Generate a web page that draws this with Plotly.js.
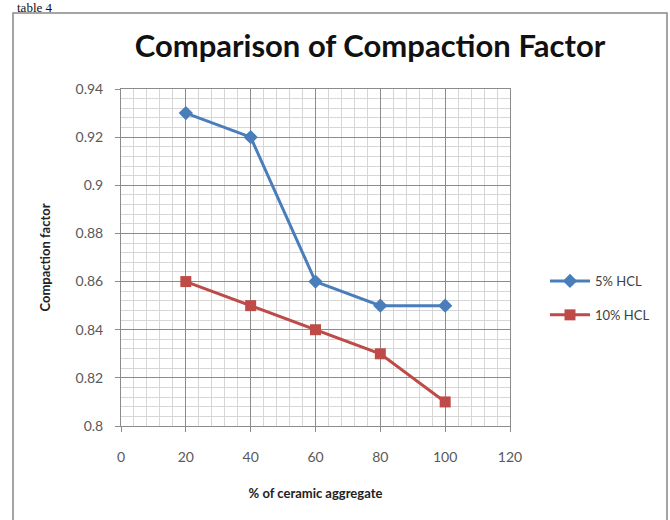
<!DOCTYPE html>
<html><head><meta charset="utf-8">
<script src="https://cdn.plot.ly/plotly-3.0.1.min.js"></script>
<style>html,body{margin:0;padding:0;background:#fff;}#chart{width:670px;height:520px;}</style>
</head><body><div id="chart"></div>
<script>
const xValues = [20, 40, 60, 80, 100];
const hcl5 = [0.93, 0.92, 0.86, 0.85, 0.85];
const hcl10 = [0.86, 0.85, 0.84, 0.83, 0.81];
const seriesNames = ["5% HCL", "10% HCL"];
const chartTitle = "Comparison of Compaction Factor";
const xTitle = "% of ceramic aggregate";
const yTitle = "Compaction factor";

const L = 121, R = 510, T = 89, B = 426;
const px = x => (x - L) / (R - L);
const py = y => (B - y) / (B - T);

const font = "Lato, 'Open Sans', 'Liberation Sans', sans-serif";

const traces = [
  {x: xValues, y: hcl5, name: seriesNames[0], legendgroup: "a", type: "scatter", mode: "lines+markers",
   line: {color: "#4a7ebb", width: 3}, marker: {symbol: "diamond", size: 11, color: "#4a7ebb"}},
  {x: xValues, y: hcl10, name: seriesNames[1], legendgroup: "b", type: "scatter", mode: "lines+markers",
   line: {color: "#be4b48", width: 3}, marker: {symbol: "square", size: 11, color: "#be4b48"}}
];

const layout = {
  width: 670, height: 520,
  margin: {l: L, r: 670 - R, t: T, b: 520 - B},
  paper_bgcolor: "#fff", plot_bgcolor: "#fff",
  showlegend: true,
  legend: {x: px(545), y: py(266), xanchor: "left", yanchor: "top", traceorder: "grouped",
           font: {family: font, size: 13, color: "#404040"}, tracegroupgap: 14, itemwidth: 40},
  title: {text: "<b>" + chartTitle + "</b>", font: {family: font, size: 31, color: "#111"},
          x: px(370), xref: "paper", xanchor: "center", y: 1 - 46/520, yanchor: "middle"},
  xaxis: {range: [0, 120], dtick: 20, tick0: 0, showgrid: true, gridcolor: "#8c8c8c", gridwidth: 1,
          minor: {dtick: 4, showgrid: true, gridcolor: "#d6d6d6", gridwidth: 1},
          showline: true, linecolor: "#8c8c8c", mirror: true, zeroline: false,
          ticks: "outside", ticklen: 5, tickcolor: "#8c8c8c", ticklabelstandoff: 13,
          tickfont: {family: font, size: 14, color: "#595959"},
          title: {text: "<b>" + xTitle + "</b>", font: {family: font, size: 13, color: "#222"}, standoff: 25}},
  yaxis: {range: [0.8, 0.94], dtick: 0.02, tick0: 0.8, showgrid: true, gridcolor: "#8c8c8c", gridwidth: 1,
          minor: {dtick: 0.004, showgrid: true, gridcolor: "#d6d6d6", gridwidth: 1},
          showline: true, linecolor: "#8c8c8c", mirror: true, zeroline: false,
          ticks: "outside", ticklen: 5, tickcolor: "#8c8c8c", ticklabelstandoff: 9,
          tickfont: {family: font, size: 14, color: "#595959"},
          title: {text: "<b>" + yTitle + "</b>", font: {family: font, size: 13, color: "#222"}, standoff: 21}},
  shapes: [
    {type: "rect", xref: "paper", yref: "paper", x0: px(13), x1: px(667), y0: py(13), y1: py(530),
     line: {color: "#888", width: 1.5}, fillcolor: "rgba(0,0,0,0)", layer: "below"}
  ],
  annotations: [
    {text: "table 4", xref: "paper", yref: "paper", x: px(16), y: py(-1), xanchor: "left", yanchor: "top",
     showarrow: false, borderpad: 0,
     font: {family: "'Liberation Serif', 'Times New Roman', serif", size: 13, color: "#111"}}
  ]
};

Plotly.newPlot("chart", traces, layout, {displayModeBar: false, staticPlot: true});
</script></body></html>
